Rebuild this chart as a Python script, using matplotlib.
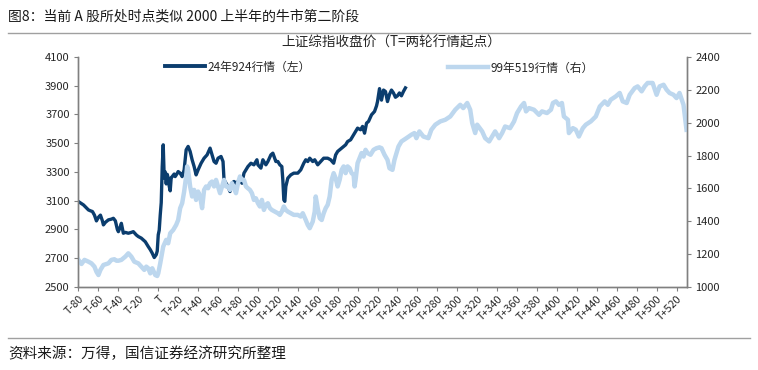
import matplotlib
matplotlib.use("Agg")
import matplotlib.pyplot as plt
from matplotlib.lines import Line2D

plt.rcParams['font.family'] = ['Noto Sans CJK SC', 'DejaVu Sans']

title = "图8：当前 A 股所处时点类似 2000 上半年的牛市第二阶段"
subtitle = "上证综指收盘价（T=两轮行情起点）"
source = "资料来源：万得，国信证券经济研究所整理"
label_24 = "24年924行情（左）"
label_99 = "99年519行情（右）"

# 24年924行情 (left axis) : trading day offset, close
t24 = [-80, -78, -75, -72, -70, -68, -66, -64, -62, -60, -58, -56, -55, -53, -50,
       -47, -45, -43, -41, -40, -38, -37, -35, -33, -30, -27, -25, -23, -22, -20,
       -17, -15, -13, -10, -8, -6, -4, -2, -1, 0, 1, 2, 3, 4, 5,
       6, 7, 8, 9, 10, 11, 12, 13, 14, 16, 17, 19, 20, 22, 24,
       26, 28, 30, 32, 34, 36, 38, 40, 43, 46, 49, 52, 54, 56, 58,
       60, 63, 65, 66, 68, 70, 72, 74, 76, 78, 80, 82, 84, 86, 88,
       90, 93, 96, 99, 100, 103, 105, 108, 110, 113, 115, 118, 120, 122, 124,
       125, 126, 127, 128, 130, 133, 136, 140, 143, 146, 148, 150, 152, 155, 157,
       160, 163, 166, 170, 173, 176, 178, 180, 184, 188, 190, 193, 196, 200, 203,
       205, 207, 209, 211, 214, 217, 219, 220, 222, 224, 226, 228, 230, 232, 234,
       236, 238, 240, 242, 244, 246, 248]
v24 = [3094, 3085, 3071, 3050, 3036, 3030, 3025, 3000, 2960, 2985, 3000, 2960, 2932, 2950, 2967,
       2972, 2978, 2960, 2900, 2885, 2920, 2943, 2874, 2880, 2874, 2880, 2885, 2870, 2862, 2851,
       2840, 2827, 2815, 2781, 2760, 2735, 2705, 2725, 2750, 2863, 2896, 3000, 3087, 3336, 3489,
       3258, 3301, 3217, 3284, 3258, 3202, 3169, 3261, 3268, 3286, 3268, 3290, 3303, 3292, 3268,
       3315, 3454, 3478, 3443, 3385, 3338, 3280, 3315, 3361, 3396, 3419, 3466, 3419, 3373, 3361,
       3396, 3408, 3373, 3245, 3222, 3199, 3164, 3222, 3234, 3222, 3234, 3245, 3222, 3292, 3315,
       3338, 3361, 3350, 3385, 3350, 3327, 3385, 3350, 3373, 3419, 3431, 3373, 3373, 3350, 3338,
       3245, 3106, 3096, 3199, 3257, 3280, 3292, 3292, 3315, 3361, 3385, 3373, 3396, 3373, 3385,
       3350, 3373, 3396, 3396, 3385, 3361, 3419, 3443, 3466, 3489, 3512, 3524, 3559, 3605, 3594,
       3617, 3570, 3640, 3652, 3698, 3721, 3760, 3790, 3880, 3800, 3870, 3860, 3790, 3840, 3870,
       3850, 3820, 3830, 3850, 3830, 3860, 3885]

# 99年519行情 (right axis)
t99 = [-80, -77, -74, -70, -67, -64, -62, -60, -58, -55, -52, -50, -47, -44, -42,
       -40, -37, -33, -30, -27, -24, -20, -17, -14, -12, -10, -8, -6, -3, -1,
       0, 2, 5, 8, 10, 12, 15, 18, 20, 22, 24, 26, 28, 29, 30,
       32, 34, 36, 38, 40, 42, 44, 46, 48, 50, 52, 54, 56, 58, 60,
       62, 64, 66, 68, 70, 72, 74, 76, 78, 80, 82, 84, 86, 88, 90,
       92, 94, 96, 98, 100, 102, 104, 106, 108, 110, 112, 114, 117, 120, 122,
       124, 126, 128, 130, 133, 136, 140, 143, 145, 148, 150, 152, 155, 157, 158,
       160, 162, 164, 166, 168, 170, 172, 174, 176, 178, 180, 182, 184, 186, 188,
       190, 192, 194, 196, 197, 198, 200, 202, 204, 206, 208, 210, 213, 216, 219,
       222, 224, 227, 230, 232, 235, 237, 241, 244, 249, 254, 257, 259, 262, 266,
       271, 274, 278, 283, 288, 293, 298, 303, 306, 310, 313, 315, 318, 320, 325,
       328, 332, 335, 338, 342, 345, 348, 353, 357, 360, 364, 367, 369, 372, 377,
       382, 385, 390, 394, 396, 399, 402, 405, 407, 411, 412, 416, 419, 422, 426,
       429, 434, 439, 443, 448, 451, 454, 459, 463, 466, 470, 473, 478, 481, 485,
       488, 491, 496, 500, 503, 507, 510, 513, 517, 520, 523, 527, 530]
v99 = [1165, 1140, 1165, 1154, 1144, 1124, 1093, 1073, 1104, 1134, 1140, 1144, 1165, 1169, 1160,
       1160, 1165, 1185, 1205, 1185, 1154, 1144, 1124, 1104, 1124, 1114, 1083, 1114, 1073, 1067,
       1083, 1144, 1246, 1287, 1266, 1327, 1347, 1378, 1408, 1480, 1510, 1581, 1673, 1734, 1713,
       1612, 1551, 1591, 1530, 1581, 1551, 1480, 1591, 1612, 1601, 1632, 1642, 1612, 1652, 1612,
       1571, 1612, 1652, 1612, 1612, 1591, 1632, 1601, 1571, 1632, 1673, 1652, 1652, 1612, 1601,
       1591, 1571, 1530, 1540, 1510, 1490, 1530, 1469, 1500, 1510, 1480, 1469, 1459, 1449, 1439,
       1459, 1490, 1469, 1459, 1449, 1439, 1439, 1429, 1449, 1408, 1378, 1358, 1398, 1459, 1551,
       1480, 1419, 1408, 1449, 1480, 1500, 1551, 1652, 1693, 1662, 1612, 1652, 1713, 1734, 1693,
       1734, 1723, 1693, 1683, 1612, 1652, 1754, 1784, 1815, 1794, 1835, 1815, 1805, 1835, 1845,
       1850, 1845, 1805, 1774, 1723, 1713, 1774, 1855, 1886, 1906, 1927, 1937, 1906, 1947, 1916,
       1906, 1957, 1988, 2008, 2018, 2038, 2079, 2109, 2089, 2120, 2079, 1998, 1937, 1988, 1947,
       1906, 1886, 1916, 1947, 1906, 1937, 1977, 1967, 2008, 2059, 2099, 2120, 2069, 2089, 2079,
       2048, 2069, 2059, 2079, 2120, 2130, 2109, 2120, 2038, 2018, 1937, 1967, 1957, 1916, 1967,
       1988, 2008, 2038, 2099, 2130, 2109, 2140, 2160, 2181, 2130, 2120, 2170, 2211, 2221, 2191,
       2221, 2242, 2242, 2170, 2221, 2231, 2201, 2181, 2170, 2150, 2181, 2109, 1957]

xtick_pos = list(range(-80, 521, 20))
xtick_labels = [("T" if p == 0 else (f"T+{p}" if p > 0 else f"T-{-p}")) for p in xtick_pos]
left_ticks = [2500, 2700, 2900, 3100, 3300, 3500, 3700, 3900, 4100]
right_ticks = [1000, 1200, 1400, 1600, 1800, 2000, 2200, 2400]

dark = "#0b3d6e"
light = "#bdd7ee"
spine_c = "#808080"
text_c = "#262626"

W, H = 758, 370
fig = plt.figure(figsize=(W / 100, H / 100), dpi=100)
ax = fig.add_axes([78 / W, 1 - 287 / H, (687 - 78) / W, (287 - 57) / H])
ax2 = ax.twinx()

ax.plot(t24, v24, color=dark, lw=2.4, solid_joinstyle='round')
ax2.plot(t99, v99, color=light, lw=3.2, solid_joinstyle='round')

ax.set_xlim(-80.5, 530.5)
ax.set_ylim(2500, 4100)
ax2.set_ylim(1000, 2400)
ax.set_yticks(left_ticks)
ax2.set_yticks(right_ticks)
ax.set_xticks(xtick_pos)
ax.set_xticklabels(xtick_labels, rotation=45, ha='right', va='top',
                   rotation_mode='anchor', fontsize=7.8, color=text_c)
ax.tick_params(axis='x', length=3, color=spine_c, pad=2)
ax.tick_params(axis='y', length=3, color=spine_c, labelsize=8, labelcolor=text_c, pad=3)
ax2.tick_params(axis='y', length=3, color=spine_c, labelsize=8, labelcolor=text_c, pad=3)

for a in (ax, ax2):
    a.spines['top'].set_visible(False)
    for s in ('left', 'right', 'bottom'):
        a.spines[s].set_color(spine_c)
        a.spines[s].set_linewidth(1.0)
ax.patch.set_visible(False)

# legends
h24 = Line2D([], [], color=dark, lw=2.8)
h99 = Line2D([], [], color=light, lw=3.2)
leg_kw = dict(frameon=False, fontsize=8.5, handlelength=3.4, handletextpad=0.2,
              borderpad=0, borderaxespad=0, loc='center left')
leg1 = fig.legend([h24], [label_24], bbox_to_anchor=(165 / W, 1 - 67 / H), **leg_kw)
leg2 = fig.legend([h99], [label_99], bbox_to_anchor=(448 / W, 1 - 68 / H), **leg_kw)
for lg in (leg1, leg2):
    for t in lg.get_texts():
        t.set_color(text_c)

# texts and separators
fig.text(8 / W, 1 - 16 / H, title, fontsize=10, color="#1a1a1a", ha='left', va='center')
fig.text(391 / W, 1 - 43 / H, subtitle, fontsize=9.8, color=text_c, ha='center', va='center')
fig.text(8 / W, 1 - 354 / H, source, fontsize=10.5, color="#1a1a1a", ha='left', va='center')
fig.add_artist(Line2D([8 / W, 750 / W], [1 - 33 / H, 1 - 33 / H], color="#a0a0a0", lw=1.0))
fig.add_artist(Line2D([8 / W, 750 / W], [1 - 338 / H, 1 - 338 / H], color="#a0a0a0", lw=1.0))

fig.savefig("out.png", dpi=100)
